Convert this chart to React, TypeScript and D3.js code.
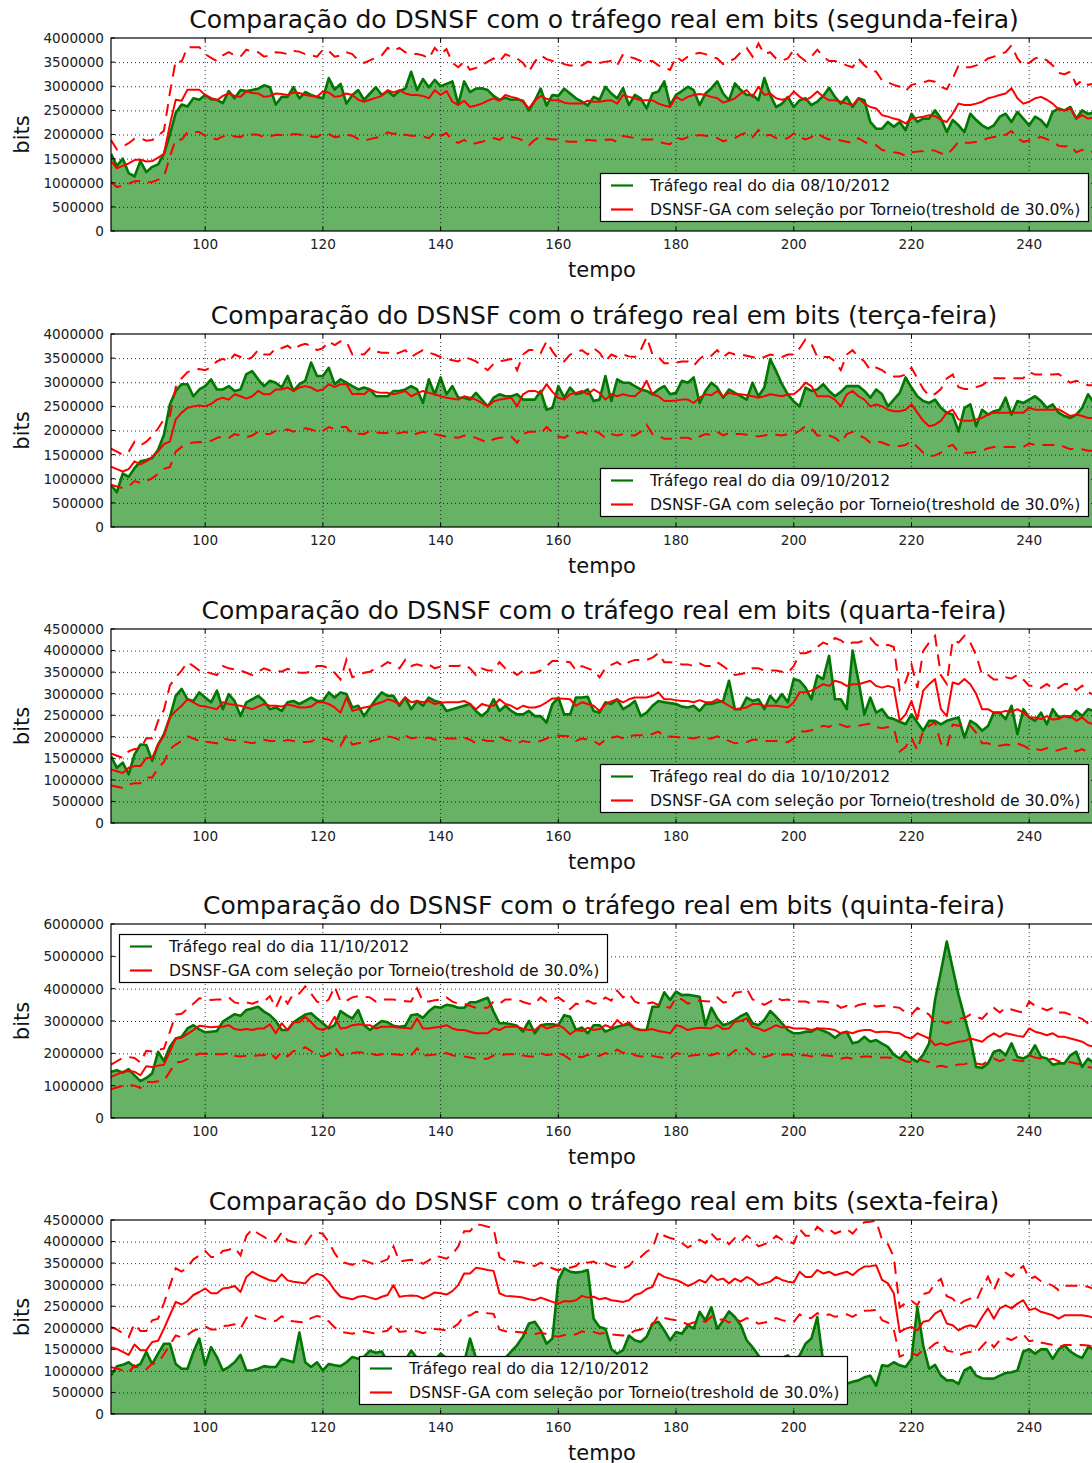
import { useEffect, useRef } from 'react';
import * as d3 from 'd3';

// tempo index of the first sample, threshold used by the DSNSF band
const FIRST_TEMPO = 84;
const THRESHOLD = 0.3;

const dayNames = ['segunda-feira', 'terça-feira', 'quarta-feira', 'quinta-feira', 'sexta-feira'];
const dayDates = ['08/10/2012', '09/10/2012', '10/10/2012', '11/10/2012', '12/10/2012'];
const yMaxes = [4000000, 4000000, 4500000, 6000000, 4500000];
const ySteps = [500000, 500000, 500000, 1000000, 500000];
const xTicks = [100, 120, 140, 160, 180, 200, 220, 240];

// values in Mbit, one per tempo step starting at FIRST_TEMPO
const segundaReal = [
  1.6, 1.35, 1.5, 1.2, 1.13, 1.45, 1.22, 1.33, 1.38, 1.6,
  2.0, 2.45, 2.62, 2.58, 2.75, 2.72, 2.82, 2.73, 2.72, 2.65,
  2.9, 2.75, 2.92, 2.9, 2.92, 2.95, 3.02, 2.98, 2.62, 2.78,
  2.78, 2.98, 2.75, 2.88, 2.82, 2.78, 2.75, 3.17, 2.93, 3.05,
  2.64, 2.82, 2.92, 2.72, 2.85, 2.98, 2.82, 2.9, 2.8, 2.9,
  2.95, 3.3, 2.92, 3.15, 2.98, 3.13, 3.0, 3.05, 3.1, 2.62,
  3.1, 2.88, 2.95, 2.96, 2.92, 2.8, 2.72, 2.76, 2.72, 2.73,
  2.7, 2.5, 2.7, 2.95, 2.6, 2.82, 2.8, 2.95, 2.85, 2.75,
  2.68, 2.6, 2.78, 2.72, 2.99, 2.85, 2.75, 2.96, 2.61, 2.82,
  2.75, 2.54, 2.85, 2.89, 3.1, 2.61, 2.82, 2.9, 2.99, 2.92,
  2.61, 2.85, 2.96, 3.1, 2.85, 2.71, 3.06, 2.92, 2.82, 2.82,
  2.71, 3.17, 2.82, 2.57, 2.64, 2.78, 2.57, 2.71, 2.75, 2.61,
  2.68, 2.8, 2.97, 2.78, 2.64, 2.78, 2.57, 2.75, 2.71, 2.26,
  2.12, 2.12, 2.26, 2.16, 2.26, 2.09, 2.43, 2.26, 2.33, 2.33,
  2.5, 2.33, 2.05, 2.3, 2.19, 2.05, 2.43, 2.3, 2.19, 2.12,
  2.19, 2.37, 2.43, 2.26, 2.47, 2.33, 2.19, 2.37, 2.3, 2.16,
  2.47, 2.54, 2.5, 2.57, 2.33, 2.5, 2.43, 2.45,
];
const segundaDsnsf = [
  1.45, 1.3, 1.35, 1.4, 1.47, 1.48, 1.44, 1.45, 1.52, 1.6,
  2.2, 2.72, 2.7, 2.93, 2.93, 2.93, 2.82, 2.76, 2.71, 2.8,
  2.85, 2.8, 2.78, 2.89, 2.86, 2.85, 2.78, 2.8, 2.85, 2.84,
  2.82, 2.87, 2.86, 2.82, 2.8, 2.78, 2.89, 2.87, 2.78, 2.8,
  2.85, 2.82, 2.72, 2.68, 2.72, 2.76, 2.8, 2.92, 2.87, 2.92,
  2.85, 2.82, 2.82, 2.8, 2.75, 2.92, 2.82, 2.9, 2.68, 2.61,
  2.7, 2.57, 2.6, 2.64, 2.7, 2.75, 2.7, 2.82, 2.78, 2.75,
  2.68, 2.54, 2.7, 2.8, 2.74, 2.71, 2.71, 2.66, 2.64, 2.64,
  2.64, 2.7, 2.68, 2.68, 2.7, 2.71, 2.64, 2.82, 2.78, 2.75,
  2.71, 2.71, 2.71, 2.64, 2.6, 2.57, 2.78, 2.71, 2.78, 2.82,
  2.84, 2.82, 2.78, 2.75, 2.66, 2.7, 2.75, 2.85, 2.92, 2.78,
  2.99, 2.82, 2.85, 2.75, 2.72, 2.75, 2.89, 2.78, 2.71, 2.78,
  2.89, 2.78, 2.71, 2.71, 2.68, 2.64, 2.61, 2.75, 2.64, 2.57,
  2.54, 2.4, 2.37, 2.33, 2.3, 2.23, 2.33, 2.35, 2.37, 2.4,
  2.38, 2.3, 2.26, 2.43, 2.64, 2.61, 2.61, 2.64, 2.68, 2.75,
  2.78, 2.82, 2.85, 2.96, 2.75, 2.64, 2.68, 2.75, 2.78, 2.72,
  2.64, 2.52, 2.5, 2.54, 2.33, 2.4, 2.33, 2.35,
];

const tercaReal = [
  0.87, 0.72, 1.11, 1.04, 1.22, 1.36, 1.39, 1.43, 1.6, 1.91,
  2.54, 2.82, 2.96, 2.96, 2.71, 2.85, 2.92, 3.06, 2.85, 2.85,
  2.92, 2.82, 2.85, 3.17, 3.23, 3.06, 2.92, 3.03, 2.99, 2.89,
  3.13, 2.82, 2.96, 3.03, 3.41, 3.13, 3.13, 3.3, 2.96, 3.06,
  2.99, 2.92, 2.85, 2.89, 2.85, 2.71, 2.71, 2.71, 2.82, 2.82,
  2.85, 2.92, 2.85, 2.57, 3.06, 2.75, 3.1, 2.75, 2.92, 2.68,
  2.68, 2.64, 2.78, 2.64, 2.5, 2.68, 2.75, 2.71, 2.71, 2.75,
  2.64, 2.64, 2.64, 2.82, 2.43, 2.47, 2.92, 2.68, 2.89, 2.75,
  2.78, 2.85, 2.61, 2.64, 3.13, 2.61, 3.06, 2.99, 2.99, 2.92,
  2.85, 2.82, 2.75, 2.85, 2.92, 2.75, 2.78, 3.03, 2.99, 3.1,
  2.57, 2.82, 2.99, 2.89, 2.68, 2.85, 2.78, 2.71, 2.64, 2.99,
  2.71, 2.89, 3.48, 3.23, 2.96, 2.75, 2.6, 2.5, 2.89, 2.82,
  2.85, 2.96, 2.82, 2.71, 2.8, 2.92, 2.92, 2.92, 2.82, 2.68,
  2.85, 2.75, 2.5, 2.64, 2.78, 3.1, 2.89, 2.71, 2.61, 2.57,
  2.64, 2.47, 2.37, 2.33, 1.98, 2.47, 2.54, 2.09, 2.43, 2.33,
  2.4, 2.43, 2.68, 2.33, 2.61, 2.57, 2.64, 2.71, 2.61, 2.47,
  2.54, 2.37, 2.3, 2.26, 2.33, 2.47, 2.75, 2.57,
];
const tercaDsnsf = [
  1.25, 1.2, 1.15, 1.2, 1.36, 1.3, 1.36, 1.45, 1.57, 1.72,
  1.77, 2.23, 2.37, 2.47, 2.5, 2.52, 2.5, 2.55, 2.64, 2.68,
  2.64, 2.75, 2.71, 2.66, 2.71, 2.82, 2.75, 2.75, 2.85, 2.85,
  2.89, 2.82, 2.89, 2.92, 2.89, 2.82, 2.85, 2.96, 2.9, 2.96,
  2.96, 2.75, 2.76, 2.75, 2.85, 2.8, 2.78, 2.78, 2.75, 2.78,
  2.82, 2.71, 2.77, 2.82, 2.78, 2.75, 2.71, 2.68, 2.66, 2.64,
  2.71, 2.68, 2.64, 2.57, 2.5, 2.6, 2.64, 2.66, 2.68, 2.5,
  2.75, 2.82, 2.82, 2.77, 2.96, 2.8, 2.68, 2.64, 2.75, 2.78,
  2.82, 2.75, 2.85, 2.78, 2.64, 2.75, 2.71, 2.75, 2.72, 2.71,
  2.82, 3.03, 2.75, 2.71, 2.61, 2.61, 2.62, 2.64, 2.64, 2.57,
  2.68, 2.75, 2.73, 2.82, 2.71, 2.78, 2.75, 2.75, 2.73, 2.71,
  2.68, 2.71, 2.75, 2.73, 2.71, 2.75, 2.75, 2.85, 2.99, 2.92,
  2.71, 2.71, 2.71, 2.64, 2.5, 2.75, 2.82, 2.71, 2.64, 2.5,
  2.54, 2.5, 2.43, 2.4, 2.4, 2.43, 2.54, 2.37, 2.2, 2.09,
  2.12, 2.2, 2.37, 2.43, 2.23, 2.2, 2.2, 2.23, 2.26, 2.33,
  2.37, 2.37, 2.37, 2.37, 2.37, 2.37, 2.47, 2.43, 2.43, 2.43,
  2.43, 2.44, 2.37, 2.3, 2.33, 2.3, 2.26, 2.26,
];

const quartaReal = [
  1.55, 1.28, 1.4, 1.13, 1.59, 1.82, 1.81, 1.44, 1.82, 2.06,
  2.45, 2.95, 3.11, 2.87, 2.83, 3.03, 2.91, 2.8, 3.07, 2.64,
  2.99, 2.83, 2.48, 2.8, 2.87, 2.95, 2.83, 2.64, 2.68, 2.6,
  2.8, 2.83, 2.76, 2.83, 2.91, 2.83, 2.83, 3.03, 2.91, 3.03,
  2.99, 2.68, 2.72, 2.48, 2.68, 2.87, 3.03, 2.95, 2.95, 2.72,
  2.91, 2.64, 2.83, 2.72, 2.91, 2.83, 2.8, 2.6, 2.64, 2.68,
  2.72, 2.76, 2.6, 2.48, 2.6, 2.87, 2.6, 2.72, 2.6, 2.52,
  2.52, 2.6, 2.48, 2.48, 2.33, 2.76, 2.91, 2.52, 2.52, 2.91,
  2.91, 2.93, 2.6, 2.56, 2.8, 2.76, 2.87, 2.64, 2.72, 2.83,
  2.48, 2.56, 2.72, 2.83, 2.8, 2.78, 2.76, 2.7, 2.68, 2.72,
  2.6, 2.76, 2.76, 2.8, 2.83, 3.3, 2.64, 2.64, 2.91, 2.83,
  2.87, 2.64, 2.95, 2.8, 2.99, 2.8, 3.34, 3.3, 3.14, 2.87,
  3.42, 3.34, 3.88, 2.87, 2.87, 2.64, 4.0, 3.3, 2.52, 2.91,
  2.56, 2.64, 2.45, 2.41, 2.35, 2.29, 2.52, 2.33, 2.14, 2.37,
  2.37, 2.29, 2.37, 2.41, 2.45, 1.98, 2.37, 2.29, 2.14, 2.25,
  2.56, 2.56, 2.41, 2.72, 2.06, 2.64, 2.45, 2.37, 2.56, 2.29,
  2.64, 2.45, 2.48, 2.45, 2.6, 2.48, 2.64, 2.6,
];
const quartaDsnsf = [
  1.24, 1.2, 1.16, 1.28, 1.32, 1.32, 1.51, 1.51, 1.82, 2.02,
  2.45, 2.6, 2.72, 2.87, 2.8, 2.72, 2.7, 2.67, 2.64, 2.8,
  2.76, 2.74, 2.72, 2.68, 2.64, 2.7, 2.76, 2.72, 2.72, 2.7,
  2.75, 2.72, 2.68, 2.68, 2.7, 2.8, 2.8, 2.76, 2.68, 2.56,
  2.91, 2.6, 2.64, 2.68, 2.7, 2.76, 2.8, 2.87, 2.83, 2.76,
  2.91, 2.8, 2.83, 2.8, 2.83, 2.76, 2.79, 2.8, 2.8, 2.8,
  2.83, 2.76, 2.64, 2.76, 2.72, 2.72, 2.87, 2.76, 2.72, 2.64,
  2.72, 2.68, 2.68, 2.72, 2.8, 2.89, 2.89, 2.88, 2.87, 2.72,
  2.8, 2.76, 2.72, 2.6, 2.76, 2.82, 2.87, 2.8, 2.87, 2.91,
  2.91, 2.91, 2.95, 3.03, 2.87, 2.87, 2.85, 2.83, 2.83, 2.8,
  2.85, 2.8, 2.8, 2.87, 2.8, 2.72, 2.64, 2.66, 2.68, 2.76,
  2.76, 2.72, 2.72, 2.72, 2.7, 2.68, 2.8, 3.03, 3.03, 3.07,
  3.14, 3.22, 3.18, 3.3, 3.26, 3.18, 3.22, 3.22, 3.26, 3.3,
  3.18, 3.14, 3.18, 3.14, 2.37, 2.52, 2.83, 2.41, 3.07, 3.22,
  3.34, 2.64, 2.48, 3.26, 3.22, 3.34, 3.22, 2.99, 2.64, 2.64,
  2.56, 2.56, 2.6, 2.58, 2.64, 2.56, 2.45, 2.45, 2.41, 2.48,
  2.4, 2.41, 2.48, 2.48, 2.37, 2.45, 2.33, 2.29,
];

const quintaReal = [
  1.43, 1.48, 1.4, 1.51, 1.32, 1.14, 1.24, 1.38, 2.05, 1.76,
  2.2, 2.46, 2.51, 2.77, 2.87, 2.74, 2.65, 2.67, 2.69, 2.98,
  3.1, 3.21, 3.16, 3.34, 3.39, 3.44, 3.29, 3.18, 3.0, 2.72,
  2.72, 2.96, 3.08, 3.2, 3.24, 3.08, 2.93, 2.77, 2.87, 3.31,
  3.18, 3.08, 3.34, 2.87, 2.72, 2.87, 3.0, 2.96, 2.85, 2.82,
  2.85, 3.18, 3.21, 3.1, 3.3, 3.44, 3.41, 3.5, 3.47, 3.41,
  3.41, 3.58, 3.58, 3.65, 3.72, 3.29, 2.93, 2.93, 2.9, 2.85,
  2.67, 3.0, 2.62, 2.87, 2.9, 2.9, 2.87, 3.18, 3.13, 2.72,
  2.8, 2.62, 2.87, 2.87, 2.67, 2.75, 2.82, 2.87, 2.9, 2.77,
  2.72, 2.72, 3.44, 3.44, 3.89, 3.65, 3.91, 3.8, 3.81, 3.78,
  3.75, 2.87, 3.41, 3.08, 2.87, 2.93, 3.03, 3.15, 3.24, 2.93,
  2.87, 3.03, 3.31, 3.13, 2.93, 2.72, 2.62, 2.62, 2.67, 2.67,
  2.77, 2.7, 2.62, 2.48, 2.62, 2.67, 2.31, 2.36, 2.51, 2.36,
  2.41, 2.3, 2.2, 1.96, 1.84, 2.05, 1.84, 1.74, 1.96, 2.31,
  3.65, 4.53, 5.46, 4.63, 3.81, 3.13, 2.46, 1.58, 1.55, 1.69,
  2.05, 2.1, 1.94, 2.31, 1.89, 1.84, 1.94, 2.25, 1.89, 1.84,
  1.65, 1.69, 1.69, 1.94, 2.05, 1.58, 1.84, 1.69,
];
const quintaDsnsf = [
  1.27, 1.35, 1.43, 1.45, 1.43, 1.32, 1.6, 1.58, 1.62, 1.65,
  2.05, 2.46, 2.48, 2.6, 2.72, 2.85, 2.83, 2.81, 2.82, 2.82,
  2.87, 2.75, 2.72, 2.75, 2.72, 2.77, 2.77, 2.9, 2.62, 2.93,
  2.72, 2.96, 2.96, 3.13, 2.96, 2.77, 2.72, 2.82, 3.13, 2.77,
  2.79, 2.87, 2.9, 2.88, 2.87, 2.77, 2.82, 2.82, 2.82, 2.79,
  2.78, 2.77, 3.08, 2.77, 2.77, 2.8, 2.82, 2.87, 2.77, 2.72,
  2.72, 2.67, 2.62, 2.62, 2.62, 2.77, 2.72, 2.82, 2.82, 2.82,
  2.76, 2.72, 2.72, 2.87, 2.77, 2.82, 2.87, 2.77, 2.59, 2.72,
  2.69, 2.79, 2.72, 2.75, 2.87, 2.79, 3.03, 2.87, 2.96, 2.77,
  2.72, 2.72, 2.75, 2.69, 2.66, 2.62, 2.87, 2.82, 2.72, 2.77,
  2.79, 2.78, 2.77, 2.87, 2.75, 2.77, 2.98, 3.0, 3.08, 2.82,
  2.77, 2.69, 2.77, 2.87, 2.8, 2.82, 2.77, 2.77, 2.77, 2.72,
  2.77, 2.77, 2.75, 2.72, 2.62, 2.67, 2.62, 2.69, 2.72, 2.72,
  2.65, 2.67, 2.67, 2.64, 2.62, 2.51, 2.46, 2.62, 2.54, 2.46,
  2.25, 2.31, 2.25, 2.31, 2.36, 2.38, 2.46, 2.41, 2.36, 2.51,
  2.62, 2.51, 2.62, 2.58, 2.54, 2.51, 2.77, 2.67, 2.62, 2.56,
  2.62, 2.51, 2.51, 2.46, 2.41, 2.36, 2.25, 2.2,
];

const sextaReal = [
  0.89, 1.11, 1.14, 1.2, 1.09, 1.16, 1.44, 1.16, 1.4, 1.63,
  1.63, 1.16, 1.05, 1.05, 1.44, 1.75, 1.13, 1.55, 1.32, 1.01,
  1.09, 1.2, 1.37, 1.01, 1.01, 1.05, 1.11, 1.09, 1.09, 1.28,
  1.24, 1.2, 1.89, 1.2, 1.09, 1.2, 1.01, 1.16, 1.13, 1.11,
  1.2, 1.32, 1.28, 1.33, 1.47, 1.42, 1.45, 1.2, 1.1, 1.15,
  1.25, 1.47, 1.3, 1.2, 1.15, 1.25, 1.4, 1.3, 1.1, 1.0,
  1.2, 1.75, 1.3, 1.15, 1.05, 1.1, 1.2, 1.3, 1.45, 1.6,
  1.8, 2.1, 2.14, 1.94, 1.63, 1.75, 3.1, 3.38, 3.3, 3.28,
  3.3, 3.34, 2.21, 2.02, 1.98, 1.51, 1.4, 1.48, 1.82, 1.71,
  1.67, 1.79, 2.1, 2.14, 1.94, 1.71, 1.9, 1.86, 2.06, 1.98,
  2.37, 2.17, 2.48, 1.98, 2.17, 2.38, 2.25, 2.06, 1.71, 1.55,
  1.36, 1.2, 1.1, 1.15, 1.3, 1.36, 1.2, 1.36, 1.63, 1.75,
  2.25, 1.2, 0.9, 0.8, 0.75, 0.7, 0.75, 0.78, 0.85, 0.89,
  0.66, 1.13, 1.11, 1.2, 1.13, 1.09, 1.28, 2.48, 1.59, 1.05,
  1.14, 0.89, 0.78, 0.78, 0.7, 1.01, 1.09, 0.89, 0.83, 0.82,
  0.82, 0.89, 0.95, 0.97, 1.01, 1.45, 1.5, 1.4, 1.5, 1.5,
  1.28, 1.5, 1.59, 1.45, 1.36, 1.3, 1.55, 1.5,
];
const sextaDsnsf = [
  1.55, 1.51, 1.44, 1.37, 1.61, 1.48, 1.48, 1.67, 1.7, 1.98,
  2.29, 2.6, 2.54, 2.62, 2.76, 2.83, 2.91, 2.8, 2.8, 2.91,
  2.93, 2.97, 2.83, 3.18, 3.3, 3.22, 3.16, 3.1, 3.08, 3.24,
  3.1, 3.07, 3.05, 3.03, 3.18, 3.25, 3.21, 3.07, 2.87, 2.72,
  2.69, 2.66, 2.72, 2.74, 2.7, 2.66, 2.72, 2.76, 2.99, 2.72,
  2.74, 2.75, 2.74, 2.68, 2.74, 2.82, 2.8, 2.77, 2.85, 2.99,
  3.26, 3.26, 3.39, 3.37, 3.34, 3.32, 2.8, 2.74, 2.73, 2.72,
  2.7, 2.66, 2.64, 2.7, 2.65, 2.6, 2.56, 2.62, 2.61, 2.64,
  2.74, 2.7, 2.72, 2.66, 2.69, 2.64, 2.62, 2.6, 2.64, 2.76,
  2.8, 2.9, 2.95, 3.26, 3.18, 3.14, 3.11, 3.05, 2.97, 3.03,
  3.11, 3.05, 3.22, 3.11, 3.14, 3.03, 3.14, 3.07, 3.18, 3.11,
  2.99, 3.03, 3.07, 3.18, 3.11, 3.07, 3.05, 3.3, 3.18, 3.18,
  3.34, 3.26, 3.3, 3.22, 3.26, 3.3, 3.22, 3.34, 3.42, 3.43,
  3.45, 3.11, 3.03, 2.8, 1.9, 1.98, 2.02, 1.94, 2.14, 2.17,
  2.33, 2.41, 2.1, 2.06, 1.94, 2.02, 2.06, 2.02, 2.25, 2.45,
  2.21, 2.45, 2.52, 2.45, 2.56, 2.64, 2.41, 2.45, 2.37, 2.33,
  2.29, 2.21, 2.29, 2.29, 2.29, 2.29, 2.27, 2.23,
];

const realSeries = [segundaReal, tercaReal, quartaReal, quintaReal, sextaReal];
const dsnsfSeries = [segundaDsnsf, tercaDsnsf, quartaDsnsf, quintaDsnsf, sextaDsnsf];

const FONT = "'DejaVu Sans', sans-serif";

export default function App() {
  const svgRef = useRef<SVGSVGElement>(null);

  useEffect(() => {
    const svg = d3.select(svgRef.current);
    svg.selectAll('*').remove();

    const left = 111;
    const x = d3.scaleLinear().domain([84, 251.3]).range([left, 1095.7]);
    const tops = [38, 334, 629, 924, 1220];
    const heights = [193, 193, 194, 194, 194];
    const legendPos = [
      { x: 600, y: 173 }, { x: 600, y: 468 }, { x: 600, y: 764 },
      { x: 119, y: 934 }, { x: 359, y: 1356 },
    ];

    dayNames.forEach((day, i) => {
      const top = tops[i];
      const h = heights[i];
      const bottom = top + h;
      const y = d3.scaleLinear().domain([0, yMaxes[i]]).range([bottom, top]);
      const g = svg.append('g');

      const real = realSeries[i].map((v, k) => ({ t: FIRST_TEMPO + k, v: v * 1e6 }));
      const dsnsf = dsnsfSeries[i].map((v, k) => ({ t: FIRST_TEMPO + k, v: v * 1e6 }));

      const clipId = `clip-${i}`;
      g.append('clipPath').attr('id', clipId)
        .append('rect').attr('x', left).attr('y', top).attr('width', 1200).attr('height', h);
      const plot = g.append('g').attr('clip-path', `url(#${clipId})`);

      plot.append('path')
        .datum(real)
        .attr('fill', '#008000')
        .attr('fill-opacity', 0.6)
        .attr('d', d3.area<any>().x(d => x(d.t)).y0(y(0)).y1(d => y(d.v)));

      // grid
      const yTicks = d3.range(0, yMaxes[i] + 1, ySteps[i]);
      plot.selectAll('.gy').data(yTicks.slice(1, -1)).enter().append('line')
        .attr('x1', left).attr('x2', 1100)
        .attr('y1', d => y(d) + 0.5).attr('y2', d => y(d) + 0.5)
        .attr('stroke', '#000').attr('stroke-width', 0.8).attr('stroke-dasharray', '1,3');
      plot.selectAll('.gx').data(xTicks).enter().append('line')
        .attr('x1', d => x(d)).attr('x2', d => x(d))
        .attr('y1', top).attr('y2', bottom)
        .attr('stroke', '#000').attr('stroke-width', 0.8).attr('stroke-dasharray', '1,3');

      const line = d3.line<any>().x(d => x(d.t)).y(d => y(d.v));
      plot.append('path').datum(real).attr('d', line)
        .attr('fill', 'none').attr('stroke', '#007700').attr('stroke-width', 2.6)
        .attr('stroke-linejoin', 'round');
      plot.append('path').datum(dsnsf).attr('d', line)
        .attr('fill', 'none').attr('stroke', '#ff0000').attr('stroke-width', 2)
        .attr('stroke-linejoin', 'round');
      [1 + THRESHOLD, 1 - THRESHOLD].forEach(f => {
        plot.append('path').datum(dsnsf.map(d => ({ t: d.t, v: d.v * f }))).attr('d', line)
          .attr('fill', 'none').attr('stroke', '#ff0000').attr('stroke-width', 2)
          .attr('stroke-dasharray', '12,8');
      });

      // spines and inner ticks
      g.append('rect').attr('x', left).attr('y', top).attr('width', 1100).attr('height', h)
        .attr('fill', 'none').attr('stroke', '#000').attr('stroke-width', 1.2);
      xTicks.forEach(t => {
        g.append('line').attr('x1', x(t)).attr('x2', x(t)).attr('y1', bottom).attr('y2', bottom - 4)
          .attr('stroke', '#000');
        g.append('line').attr('x1', x(t)).attr('x2', x(t)).attr('y1', top).attr('y2', top + 4)
          .attr('stroke', '#000');
        g.append('text').attr('x', x(t)).attr('y', bottom + 18)
          .attr('text-anchor', 'middle').attr('font-family', FONT).attr('font-size', 13.6)
          .attr('fill', '#222').text(t);
      });
      yTicks.forEach(t => {
        g.append('line').attr('x1', left).attr('x2', left + 4).attr('y1', y(t)).attr('y2', y(t))
          .attr('stroke', '#000');
        g.append('text').attr('x', 104).attr('y', y(t)).attr('dy', '0.36em')
          .attr('text-anchor', 'end').attr('font-family', FONT).attr('font-size', 13.6)
          .attr('fill', '#222').text(String(t));
      });

      g.append('text').attr('x', 604).attr('y', top - 10)
        .attr('text-anchor', 'middle').attr('font-family', FONT).attr('font-size', 25)
        .attr('fill', '#111').text(`Comparação do DSNSF com o tráfego real em bits (${day})`);
      g.append('text').attr('x', 602).attr('y', bottom + 46)
        .attr('text-anchor', 'middle').attr('font-family', FONT).attr('font-size', 21)
        .attr('fill', '#111').text('tempo');
      g.append('text').attr('transform', `translate(29,${top + h / 2}) rotate(-90)`)
        .attr('text-anchor', 'middle').attr('font-family', FONT).attr('font-size', 21)
        .attr('fill', '#111').text('bits');

      // legend
      const lp = legendPos[i];
      const lg = g.append('g').attr('transform', `translate(${lp.x},${lp.y})`);
      lg.append('rect').attr('x', 0.5).attr('y', 0.5).attr('width', 488).attr('height', 48)
        .attr('fill', '#fff').attr('stroke', '#000').attr('stroke-width', 1.2);
      const entries = [
        { label: `Tráfego real do dia ${dayDates[i]}`, color: '#007700' },
        { label: 'DSNSF-GA com seleção por Torneio(treshold de 30.0%)', color: '#ff0000' },
      ];
      entries.forEach((e, k) => {
        const ly = 12.5 + k * 24;
        lg.append('line').attr('x1', 11).attr('x2', 33).attr('y1', ly).attr('y2', ly)
          .attr('stroke', e.color).attr('stroke-width', 2.2);
        lg.append('text').attr('x', 50).attr('y', ly).attr('dy', '0.36em')
          .attr('font-family', FONT).attr('font-size', 15.6).attr('fill', '#111').text(e.label);
      });
    });
  }, []);

  return (
    <svg
      ref={svgRef}
      width={1092}
      height={1463}
      style={{ position: 'absolute', left: 0, top: 0, display: 'block', background: '#fff' }}
    />
  );
}
